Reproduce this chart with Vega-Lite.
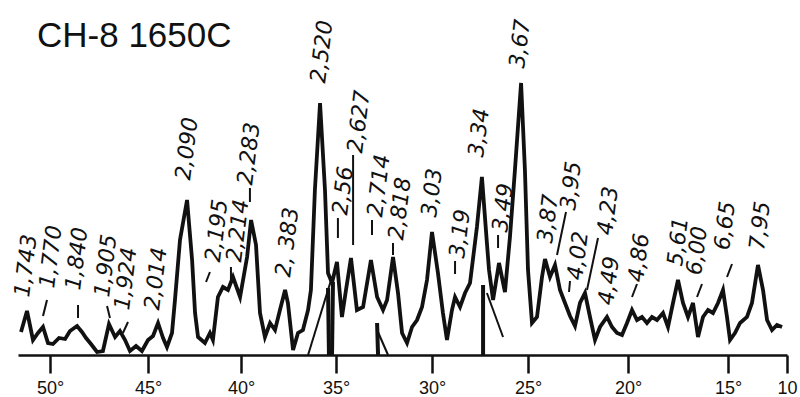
{
  "$schema": "https://vega.github.io/schema/vega-lite/v6.json",
  "width": 800,
  "height": 355,
  "autosize": "none",
  "padding": {"left": 0, "top": 0, "right": 0, "bottom": 42},
  "background": "white",
  "config": {"view": {"stroke": null}},
  "title": {"text": "CH-8 1650C", "anchor": "start", "offset": -82, "dx": 37, "font": "Liberation Sans", "fontSize": 35, "fontWeight": "normal", "color": "#111", "baseline": "alphabetic"},
  "datasets": {
    "pattern": [
      {"two_theta": 51.45, "intensity": 23}, {"two_theta": 51.15, "intensity": 44}, {"two_theta": 50.85, "intensity": 15},
      {"two_theta": 50.6, "intensity": 22}, {"two_theta": 50.35, "intensity": 28}, {"two_theta": 50.1, "intensity": 12},
      {"two_theta": 49.85, "intensity": 11}, {"two_theta": 49.54, "intensity": 17}, {"two_theta": 49.23, "intensity": 16},
      {"two_theta": 48.98, "intensity": 24}, {"two_theta": 48.62, "intensity": 29}, {"two_theta": 48.37, "intensity": 23},
      {"two_theta": 48.16, "intensity": 17}, {"two_theta": 47.91, "intensity": 11}, {"two_theta": 47.6, "intensity": 3},
      {"two_theta": 47.3, "intensity": 4}, {"two_theta": 46.99, "intensity": 31}, {"two_theta": 46.68, "intensity": 18},
      {"two_theta": 46.43, "intensity": 24}, {"two_theta": 46.17, "intensity": 15}, {"two_theta": 45.92, "intensity": 4},
      {"two_theta": 45.61, "intensity": 9}, {"two_theta": 45.31, "intensity": 4}, {"two_theta": 45.0, "intensity": 15},
      {"two_theta": 44.73, "intensity": 19}, {"two_theta": 44.46, "intensity": 32}, {"two_theta": 44.19, "intensity": 17},
      {"two_theta": 43.98, "intensity": 8}, {"two_theta": 43.71, "intensity": 22}, {"two_theta": 43.55, "intensity": 55},
      {"two_theta": 43.28, "intensity": 115}, {"two_theta": 42.9, "intensity": 155}, {"two_theta": 42.63, "intensity": 95},
      {"two_theta": 42.47, "intensity": 42}, {"two_theta": 42.31, "intensity": 18}, {"two_theta": 41.94, "intensity": 12},
      {"two_theta": 41.67, "intensity": 22}, {"two_theta": 41.51, "intensity": 15}, {"two_theta": 41.24, "intensity": 58},
      {"two_theta": 40.97, "intensity": 68}, {"two_theta": 40.7, "intensity": 65}, {"two_theta": 40.43, "intensity": 78},
      {"two_theta": 40.05, "intensity": 58}, {"two_theta": 39.68, "intensity": 98}, {"two_theta": 39.47, "intensity": 135},
      {"two_theta": 39.21, "intensity": 110}, {"two_theta": 39.0, "intensity": 42}, {"two_theta": 38.74, "intensity": 18},
      {"two_theta": 38.47, "intensity": 32}, {"two_theta": 38.21, "intensity": 25}, {"two_theta": 37.95, "intensity": 45},
      {"two_theta": 37.68, "intensity": 65}, {"two_theta": 37.53, "intensity": 52}, {"two_theta": 37.26, "intensity": 5},
      {"two_theta": 37.0, "intensity": 22}, {"two_theta": 36.74, "intensity": 25}, {"two_theta": 36.47, "intensity": 45},
      {"two_theta": 36.32, "intensity": 65}, {"two_theta": 36.11, "intensity": 165}, {"two_theta": 35.84, "intensity": 252},
      {"two_theta": 35.58, "intensity": 165}, {"two_theta": 35.42, "intensity": 82}, {"two_theta": 35.21, "intensity": 72},
      {"two_theta": 34.95, "intensity": 93}, {"two_theta": 34.69, "intensity": 38}, {"two_theta": 34.48, "intensity": 65},
      {"two_theta": 34.22, "intensity": 97}, {"two_theta": 33.91, "intensity": 45}, {"two_theta": 33.59, "intensity": 48},
      {"two_theta": 33.18, "intensity": 95}, {"two_theta": 32.86, "intensity": 58}, {"two_theta": 32.55, "intensity": 45},
      {"two_theta": 32.34, "intensity": 55}, {"two_theta": 32.03, "intensity": 98}, {"two_theta": 31.77, "intensity": 62},
      {"two_theta": 31.56, "intensity": 22}, {"two_theta": 31.3, "intensity": 12}, {"two_theta": 31.04, "intensity": 28},
      {"two_theta": 30.78, "intensity": 35}, {"two_theta": 30.52, "intensity": 48}, {"two_theta": 30.26, "intensity": 75},
      {"two_theta": 30.0, "intensity": 123}, {"two_theta": 29.69, "intensity": 82}, {"two_theta": 29.43, "intensity": 42},
      {"two_theta": 29.22, "intensity": 15}, {"two_theta": 28.96, "intensity": 45}, {"two_theta": 28.8, "intensity": 58},
      {"two_theta": 28.54, "intensity": 48}, {"two_theta": 28.28, "intensity": 62}, {"two_theta": 28.02, "intensity": 72},
      {"two_theta": 27.66, "intensity": 128}, {"two_theta": 27.4, "intensity": 178}, {"two_theta": 27.14, "intensity": 112},
      {"two_theta": 27.03, "intensity": 85}, {"two_theta": 26.82, "intensity": 55}, {"two_theta": 26.51, "intensity": 92},
      {"two_theta": 26.2, "intensity": 63}, {"two_theta": 25.94, "intensity": 118}, {"two_theta": 25.68, "intensity": 185},
      {"two_theta": 25.36, "intensity": 272}, {"two_theta": 25.16, "intensity": 185}, {"two_theta": 25.0, "intensity": 85},
      {"two_theta": 24.8, "intensity": 32}, {"two_theta": 24.55, "intensity": 38}, {"two_theta": 24.3, "intensity": 78},
      {"two_theta": 24.15, "intensity": 96}, {"two_theta": 23.9, "intensity": 78}, {"two_theta": 23.65, "intensity": 90},
      {"two_theta": 23.4, "intensity": 65}, {"two_theta": 23.15, "intensity": 52}, {"two_theta": 22.9, "intensity": 39},
      {"two_theta": 22.65, "intensity": 29}, {"two_theta": 22.4, "intensity": 52}, {"two_theta": 22.15, "intensity": 62},
      {"two_theta": 21.9, "intensity": 38}, {"two_theta": 21.65, "intensity": 15}, {"two_theta": 21.4, "intensity": 28},
      {"two_theta": 21.05, "intensity": 38}, {"two_theta": 20.8, "intensity": 28}, {"two_theta": 20.55, "intensity": 22},
      {"two_theta": 20.3, "intensity": 20}, {"two_theta": 20.05, "intensity": 32}, {"two_theta": 19.8, "intensity": 45},
      {"two_theta": 19.55, "intensity": 35}, {"two_theta": 19.3, "intensity": 38}, {"two_theta": 19.05, "intensity": 32},
      {"two_theta": 18.8, "intensity": 38}, {"two_theta": 18.55, "intensity": 35}, {"two_theta": 18.25, "intensity": 42},
      {"two_theta": 18.0, "intensity": 28}, {"two_theta": 17.75, "intensity": 52}, {"two_theta": 17.5, "intensity": 75},
      {"two_theta": 17.25, "intensity": 52}, {"two_theta": 17.0, "intensity": 38}, {"two_theta": 16.75, "intensity": 52},
      {"two_theta": 16.5, "intensity": 18}, {"two_theta": 16.25, "intensity": 38}, {"two_theta": 16.0, "intensity": 45},
      {"two_theta": 15.75, "intensity": 42}, {"two_theta": 15.5, "intensity": 52}, {"two_theta": 15.25, "intensity": 65},
      {"two_theta": 15.05, "intensity": 38}, {"two_theta": 14.83, "intensity": 15}, {"two_theta": 14.41, "intensity": 22},
      {"two_theta": 13.98, "intensity": 32}, {"two_theta": 13.39, "intensity": 38}, {"two_theta": 12.97, "intensity": 52},
      {"two_theta": 12.46, "intensity": 90}, {"two_theta": 12.03, "intensity": 65}, {"two_theta": 11.69, "intensity": 35},
      {"two_theta": 11.27, "intensity": 25}, {"two_theta": 10.85, "intensity": 30}, {"two_theta": 10.42, "intensity": 28}
    ],
    "labels": [
      {"d": "1,743", "two_theta": 51.4, "intensity": 58},
      {"d": "1,770", "two_theta": 50.15, "intensity": 67},
      {"d": "1,840", "two_theta": 48.83, "intensity": 65},
      {"d": "1,905", "two_theta": 47.35, "intensity": 58},
      {"d": "1,924", "two_theta": 46.33, "intensity": 45},
      {"d": "2,014", "two_theta": 44.78, "intensity": 45},
      {"d": "2,090", "two_theta": 43.12, "intensity": 175},
      {"d": "2,195", "two_theta": 41.51, "intensity": 93},
      {"d": "2,214", "two_theta": 40.38, "intensity": 93},
      {"d": "2,283", "two_theta": 39.79, "intensity": 170},
      {"d": "2, 383", "two_theta": 37.79, "intensity": 78},
      {"d": "2,520", "two_theta": 35.95, "intensity": 272},
      {"d": "2,56", "two_theta": 34.79, "intensity": 140},
      {"d": "2,627", "two_theta": 34.01, "intensity": 202},
      {"d": "2,714", "two_theta": 32.97, "intensity": 138},
      {"d": "2,818", "two_theta": 31.875, "intensity": 115},
      {"d": "3,03", "two_theta": 30.16, "intensity": 138},
      {"d": "3,19", "two_theta": 28.7, "intensity": 97},
      {"d": "3,34", "two_theta": 27.71, "intensity": 198},
      {"d": "3,49", "two_theta": 26.46, "intensity": 123},
      {"d": "3,67", "two_theta": 25.57, "intensity": 287},
      {"d": "3,87", "two_theta": 24.15, "intensity": 112},
      {"d": "3,95", "two_theta": 23.0, "intensity": 145},
      {"d": "4,02", "two_theta": 22.65, "intensity": 75},
      {"d": "4,23", "two_theta": 21.15, "intensity": 120},
      {"d": "4,49", "two_theta": 21.1, "intensity": 50},
      {"d": "4,86", "two_theta": 19.6, "intensity": 73},
      {"d": "5,61", "two_theta": 17.65, "intensity": 89},
      {"d": "6,00", "two_theta": 16.7, "intensity": 80},
      {"d": "6,65", "two_theta": 15.3, "intensity": 105},
      {"d": "7,95", "two_theta": 12.54, "intensity": 105}
    ],
    "thin_lines": [
      {"two_theta": 50.15, "intensity": 55, "two_theta_end": 50.35, "intensity_end": 39},
      {"two_theta": 48.57, "intensity": 50, "two_theta_end": 48.57, "intensity_end": 37},
      {"two_theta": 47.09, "intensity": 49, "two_theta_end": 46.94, "intensity_end": 37},
      {"two_theta": 46.02, "intensity": 33, "two_theta_end": 46.28, "intensity_end": 22},
      {"two_theta": 41.67, "intensity": 83, "two_theta_end": 41.88, "intensity_end": 73},
      {"two_theta": 40.54, "intensity": 88, "two_theta_end": 40.54, "intensity_end": 75},
      {"two_theta": 39.53, "intensity": 167, "two_theta_end": 39.53, "intensity_end": 153},
      {"two_theta": 34.9, "intensity": 137, "two_theta_end": 34.9, "intensity_end": 117},
      {"two_theta": 34.11, "intensity": 200, "two_theta_end": 34.11, "intensity_end": 110},
      {"two_theta": 33.125, "intensity": 135, "two_theta_end": 33.125, "intensity_end": 120},
      {"two_theta": 32.03, "intensity": 112, "two_theta_end": 32.03, "intensity_end": 100},
      {"two_theta": 28.8, "intensity": 94, "two_theta_end": 28.8, "intensity_end": 81},
      {"two_theta": 26.56, "intensity": 120, "two_theta_end": 26.56, "intensity_end": 107},
      {"two_theta": 23.1, "intensity": 143, "two_theta_end": 23.55, "intensity_end": 100},
      {"two_theta": 22.9, "intensity": 74, "two_theta_end": 22.95, "intensity_end": 63},
      {"two_theta": 21.5, "intensity": 117, "two_theta_end": 22.05, "intensity_end": 65},
      {"two_theta": 19.55, "intensity": 71, "two_theta_end": 19.8, "intensity_end": 58},
      {"two_theta": 16.3, "intensity": 71, "two_theta_end": 16.55, "intensity_end": 58},
      {"two_theta": 14.66, "intensity": 91, "two_theta_end": 15.05, "intensity_end": 78},
      {"two_theta": 36.47, "intensity": 0, "two_theta_end": 35.26, "intensity_end": 75},
      {"two_theta": 32.86, "intensity": 25, "two_theta_end": 32.29, "intensity_end": 0},
      {"two_theta": 27.14, "intensity": 62, "two_theta_end": 26.3, "intensity_end": 18}
    ],
    "thick_lines": [
      {"two_theta": 35.42, "intensity": 67, "two_theta_end": 35.37, "intensity_end": 0},
      {"two_theta": 35.16, "intensity": 73, "two_theta_end": 35.21, "intensity_end": 0},
      {"two_theta": 32.86, "intensity": 32, "two_theta_end": 32.81, "intensity_end": 0},
      {"two_theta": 27.34, "intensity": 70, "two_theta_end": 27.34, "intensity_end": 0}
    ]
  },
  "encoding": {
    "x": {
      "field": "two_theta", "type": "quantitative",
      "scale": {"domain": [51.6, 50, 45, 40, 35, 30, 25, 20, 15, 10], "range": [18, 50, 148, 241, 336, 432, 528, 628, 728, 787], "nice": false, "zero": false},
      "axis": {
        "title": null, "values": [50, 45, 40, 35, 30, 25, 20, 15, 10],
        "labelExpr": "datum.value == 10 ? '10' : datum.value + '°'",
        "grid": false, "domainColor": "#111", "domainWidth": 2.5,
        "tickColor": "#111", "tickWidth": 2.5, "tickSize": 18,
        "labelPadding": 6, "labelFont": "Liberation Sans", "labelFontSize": 18, "labelColor": "#111",
        "labelFlush": false, "labelOverlap": false
      }
    },
    "y": {
      "field": "intensity", "type": "quantitative",
      "scale": {"domain": [0, 355], "nice": false},
      "axis": null
    }
  },
  "layer": [
    {
      "data": {"name": "thin_lines"},
      "mark": {"type": "rule", "color": "#111", "strokeWidth": 2},
      "encoding": {"x2": {"field": "two_theta_end"}, "y2": {"field": "intensity_end"}}
    },
    {
      "data": {"name": "thick_lines"},
      "mark": {"type": "rule", "color": "#111", "strokeWidth": 4},
      "encoding": {"x2": {"field": "two_theta_end"}, "y2": {"field": "intensity_end"}}
    },
    {
      "data": {"name": "pattern"},
      "mark": {"type": "line", "color": "#111", "strokeWidth": 3.8, "strokeJoin": "miter", "strokeMiterLimit": 4},
      "encoding": {}
    },
    {
      "data": {"name": "labels"},
      "mark": {"type": "text", "angle": -83, "align": "left", "baseline": "middle", "font": "DejaVu Sans", "fontStyle": "italic", "fontSize": 22, "color": "#111"},
      "encoding": {"text": {"field": "d"}}
    }
  ]
}
